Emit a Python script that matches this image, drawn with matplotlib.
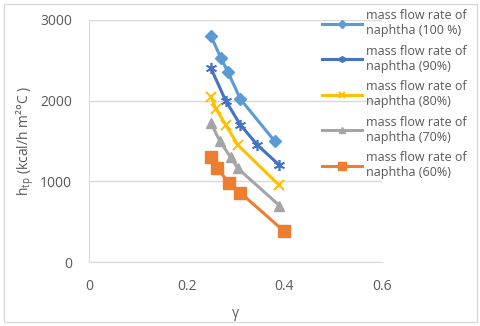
import matplotlib
matplotlib.use("Agg")
import matplotlib.pyplot as plt
from matplotlib.patches import Rectangle

plt.rcParams['font.family'] = ['Open Sans', 'DejaVu Sans']

labels = ["mass flow rate of\nnaphtha (100 %)", "mass flow rate of\nnaphtha (90%)",
          "mass flow rate of\nnaphtha (80%)", "mass flow rate of\nnaphtha (70%)",
          "mass flow rate of\nnaphtha (60%)"]
x100 = [0.25, 0.27, 0.285, 0.31, 0.38]
y100 = [2800, 2530, 2350, 2020, 1500]
x90 = [0.25, 0.28, 0.31, 0.345, 0.39]
y90 = [2400, 2000, 1700, 1450, 1200]
x80 = [0.25, 0.26, 0.28, 0.305, 0.39]
y80 = [2050, 1900, 1700, 1450, 950]
x70 = [0.25, 0.268, 0.29, 0.305, 0.39]
y70 = [1720, 1500, 1300, 1160, 700]
x60 = [0.25, 0.263, 0.287, 0.31, 0.40]
y60 = [1300, 1160, 980, 860, 380]
xticks = [0, 0.2, 0.4, 0.6]
yticks = [0, 1000, 2000, 3000]

series = [(x100, y100), (x90, y90), (x80, y80), (x70, y70), (x60, y60)]
colors = ['#5B9BD5', '#4472C4', '#FFC000', '#A5A5A5', '#ED7D31']
markers = ['D', (6, 2, 0), 'x', '^', 's']
msizes = [6.5, 8, 7.5, 7, 8.5]
mews = [1, 1.2, 1.5, 1, 1]

fig = plt.figure(figsize=(4.8, 3.26), dpi=100)
ax = fig.add_axes([0.185, 0.196, 0.611, 0.743])
for (xs, ys), c, m, ms, mw, lab in zip(series, colors, markers, msizes, mews, labels):
    ax.plot(xs, ys, color=c, lw=2.2, marker=m, ms=ms, mew=mw, mec=c, mfc=c, label=lab)

ax.set_xlim(0, 0.6)
ax.set_ylim(0, 3000)
ax.set_xticks(xticks)
ax.set_xticklabels(['0', '0.2', '0.4', '0.6'])
ax.set_yticks(yticks)
ax.yaxis.grid(True, color='#D9D9D9', lw=1)
ax.set_axisbelow(True)
for s in ['top', 'right']:
    ax.spines[s].set_visible(False)
for s in ['left', 'bottom']:
    ax.spines[s].set_color('#D9D9D9')
ax.tick_params(length=0, labelsize=10, labelcolor='#595959')
ax.tick_params(axis='y', pad=12)
ax.tick_params(axis='x', pad=12)
ax.set_xlabel('γ', fontsize=10, color='#595959', labelpad=9)
ax.set_ylabel('h$_{\\mathregular{tp}}$ (kcal/h m²°C )', fontsize=10, color='#595959', labelpad=3)

handles, labs = ax.get_legend_handles_labels()
leg = fig.legend(handles, labs, loc='upper left', bbox_to_anchor=(0.655, 0.995),
                 frameon=False, fontsize=9, labelcolor='#595959', handlelength=3.2,
                 handletextpad=0.3, labelspacing=0.6, borderaxespad=0.2, markerscale=0.6)

fig.patches.append(Rectangle((0.008, 0.012), 0.985, 0.975, transform=fig.transFigure,
                             fill=False, edgecolor='#D9D9D9', lw=1))
fig.savefig('out.png', dpi=100)
